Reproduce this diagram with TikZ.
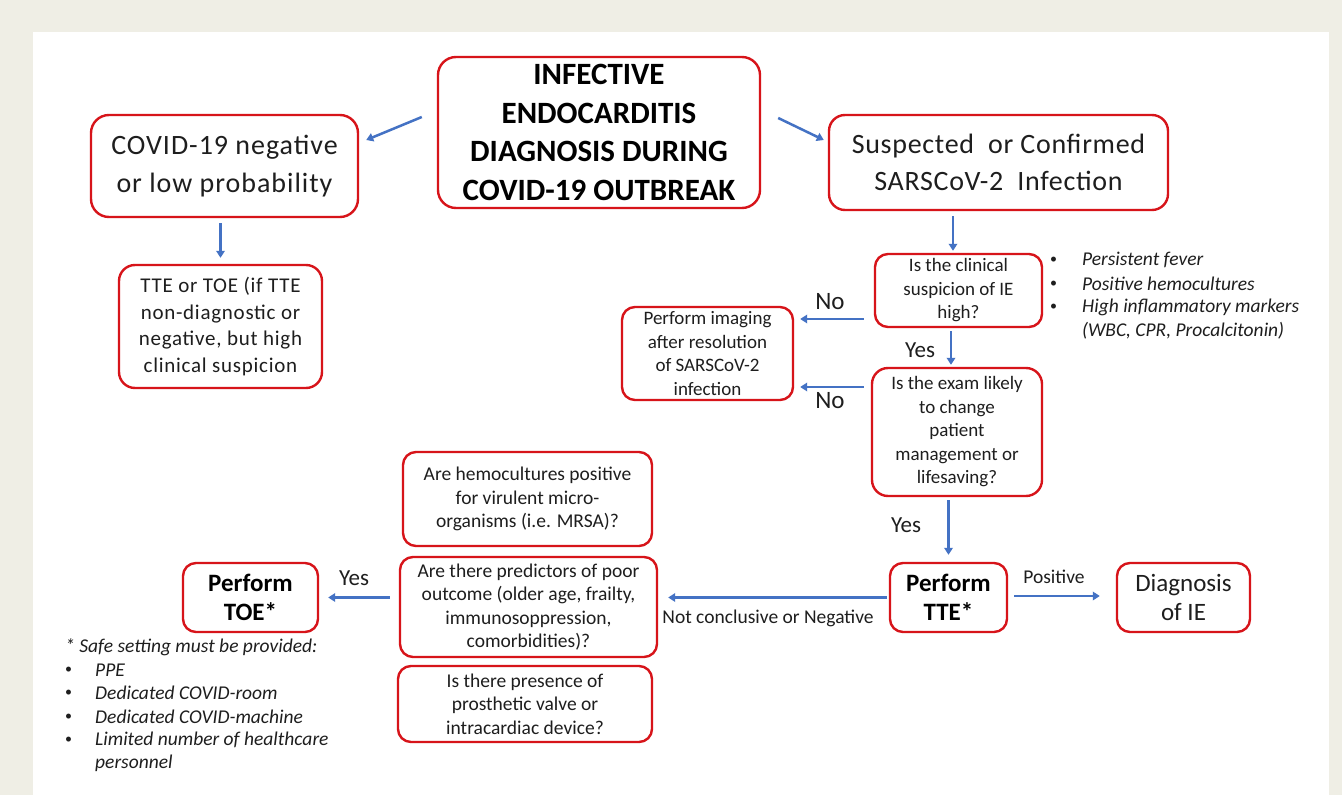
\documentclass[tikz,border=0pt]{standalone}
\usepackage{fontspec}
\setmainfont{Carlito}
\newfontfamily\spaced[LetterSpace=3.5]{Carlito}
\newfontfamily\spacedb[LetterSpace=2.5]{Carlito}
\usetikzlibrary{arrows.meta,calc}
\definecolor{boxred}{HTML}{D7141A}
\definecolor{arrblue}{HTML}{4472C4}
\definecolor{bggrey}{HTML}{EFEEE5}
\definecolor{txt}{HTML}{1E1E1E}
\tikzset{
  box/.style={draw=boxred, line width=2.4pt, rounded corners=13pt, fill=white,
    align=center, inner sep=0pt, text=txt},
  arr/.style={draw=arrblue, line width=2.5pt, -{Triangle[length=7pt,width=8.5pt]}},
  lbl/.style={text=txt, inner sep=0pt},
  f19/.style={font=\fontsize{19}{23.5}\selectfont},
  f20/.style={font=\fontsize{19.5}{23.5}\selectfont},
  bul/.style={font=\upshape\fontsize{14}{23.5}\selectfont},
}
\begin{document}
\begin{tikzpicture}[x=1pt,y=-1pt]
\useasboundingbox (0,0) rectangle (1342,795);
\fill[bggrey] (0,0) rectangle (1342,795);
\fill[white] (33,32) rectangle (1329,795);

% boxes
\node[box, rounded corners=18pt, minimum width=322pt, minimum height=151pt,
  font=\bfseries\fontsize{31}{38.5}\selectfont, text=black] (title) at (599,132.5)
  {INFECTIVE\\ENDOCARDITIS\\DIAGNOSIS DURING\\COVID-19 OUTBREAK};
\node[box, rounded corners=18pt, minimum width=267pt, minimum height=102pt,
  font=\spaced\fontsize{28}{38}\selectfont] (covneg) at (224.5,166)
  {COVID-19 negative\\or low probability};
\node[box, rounded corners=16pt, minimum width=339pt, minimum height=95pt,
  font=\spacedb\fontsize{28}{37}\selectfont] (susp) at (998.5,162.5)
  {Suspected\ \ or Confirmed\\SARSCoV-2\ \ Infection};
\node[box, rounded corners=16pt, minimum width=203pt, minimum height=123pt,
  font=\spaced\fontsize{21}{26.5}\selectfont] (tteortoe) at (220.5,326.5)
  {TTE or TOE (if TTE\\non-diagnostic or\\negative, but high\\clinical suspicion};
\node[box, f19, minimum width=167pt, minimum height=73pt] (iehigh) at (958.5,290.5)
  {Is the clinical\\suspicion of IE\\high?};
\node[box, f19, rounded corners=16pt, minimum width=170pt, minimum height=128pt] (exam) at (957,432)
  {Is the exam likely\\to change\\patient\\management or\\lifesaving?};
\node[box, f19, minimum width=171pt, minimum height=93pt] (imaging) at (707.5,353.5)
  {Perform imaging\\after resolution\\of SARSCoV-2\\infection};
\node[box, f20, minimum width=249pt, minimum height=94pt] (hemo) at (527.5,499)
  {Are hemocultures positive\\for virulent micro-\\organisms (i.e. MRSA)?};
\node[box, f20, minimum width=257pt, minimum height=100pt] (pred) at (528.5,607)
  {Are there predictors of poor\\outcome (older age, frailty,\\immunosoppression,\\comorbidities)?};
\node[box, f20, minimum width=254pt, minimum height=76pt] (pros) at (525,704)
  {Is there presence of\\prosthetic valve or\\intracardiac device?};
\node[box, minimum width=135pt, minimum height=69pt,
  font=\bfseries\fontsize{25}{29}\selectfont, text=black] (toe) at (250.5,597.5)
  {Perform\\TOE*};
\node[box, minimum width=117pt, minimum height=69pt,
  font=\bfseries\fontsize{25}{29}\selectfont, text=black] (tte) at (948.5,597.5)
  {Perform\\TTE*};
\node[box, minimum width=133pt, minimum height=69pt,
  font=\fontsize{25}{29}\selectfont] (diag) at (1183.5,597.5)
  {Diagnosis\\of IE};

% arrows
\draw[arr] ([xshift=-15pt,yshift=15.5pt]title.west) -- ([xshift=7pt,yshift=26pt]covneg.east);
\draw[arr] ([xshift=17pt,yshift=14.5pt]title.east) -- ([xshift=-4pt,yshift=22.5pt]susp.west);
\draw[arr, shorten <=5pt, shorten >=6pt] (covneg.south -| tteortoe.north) -- (tteortoe.north);
\coordinate (a1) at ([xshift=-5.5pt]iehigh.north);
\draw[arr, shorten <=5pt, shorten >=2pt] (a1 |- susp.south) -- (a1);
\coordinate (a2) at ([xshift=-7.5pt]iehigh.south);
\draw[arr, shorten <=3pt, shorten >=2pt] (a2) -- (a2 |- exam.north);
\draw[arr, shorten <=3pt, shorten >=7pt] (tte.north |- exam.south) -- (tte.north);
\coordinate (b1) at ([yshift=-28.5pt]iehigh.west);
\draw[arr, shorten <=10pt, shorten >=6pt] (b1) -- (b1 -| imaging.east);
\coordinate (b2) at ([yshift=45pt]exam.west);
\draw[arr, shorten <=7pt, shorten >=6pt] (b2) -- (b2 -| imaging.east);
\draw[arr, shorten <=2pt, shorten >=10pt] (tte.west) -- (tte.west -| pred.east);
\coordinate (d1) at (pred.west |- tte.west);
\draw[arr, shorten <=9pt, shorten >=9pt] (d1) -- (d1 -| toe.east);
\draw[arr, shorten <=6pt, shorten >=16pt] ([yshift=1.5pt]tte.east) -- ([yshift=1.5pt]diag.west);

% labels
\node[lbl, font=\fontsize{25}{28}\selectfont] (no1) at (830,302) {No};
\node[lbl, font=\fontsize{25}{28}\selectfont] (no2) at (830,401) {No};
\node[lbl, font=\fontsize{23}{26}\selectfont] (yes1) at (920,350) {Yes};
\node[lbl, font=\fontsize{23}{26}\selectfont] (yes2) at (906,525) {Yes};
\node[lbl, font=\fontsize{23}{26}\selectfont] (yes3) at (354,578) {Yes};
\node[lbl, font=\fontsize{19.5}{22}\selectfont] (pos) at (1054,577) {Positive};
\node[lbl, font=\fontsize{19.5}{22}\selectfont] (notc) at (768,618) {Not conclusive or Negative};

% right bullet list
\begin{scope}[every node/.style={lbl, anchor=west, font=\itshape\fontsize{19.5}{23.5}\selectfont}]
\node[bul] (rb1) at (1050,260) {•};
\node[bul] (rb2) at (1050,284) {•};
\node[bul] (rb3) at (1050,307) {•};
\node (r1) at (1082,260) {Persistent fever};
\node (r2) at (1082,284) {Positive hemocultures};
\node (r3) at (1082,307) {High inflammatory markers};
\node (r4) at (1082,331) {(WBC, CPR, Procalcitonin)};
\end{scope}

% footnote
\begin{scope}[every node/.style={lbl, anchor=west, font=\itshape\fontsize{19.5}{23.5}\selectfont}]
\node (fn) at (65,647) {* Safe setting must be provided:};
\node[bul] (fb1) at (65,670) {•};
\node[bul] (fb2) at (65,693) {•};
\node[bul] (fb3) at (65,717) {•};
\node[bul] (fb4) at (65,740) {•};
\node (f1) at (95,670) {PPE};
\node (f2) at (95,693) {Dedicated COVID-room};
\node (f3) at (95,717) {Dedicated COVID-machine};
\node (f4) at (95,740) {Limited number of healthcare};
\node (f5) at (95,763) {personnel};
\end{scope}
\end{tikzpicture}
\end{document}
